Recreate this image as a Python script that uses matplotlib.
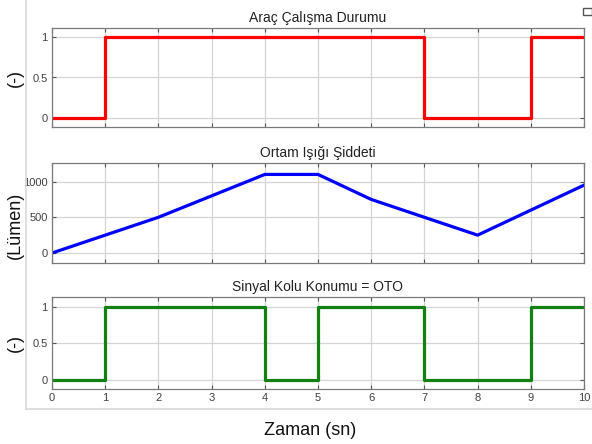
import matplotlib.pyplot as plt
import numpy as np
from matplotlib.lines import Line2D
from matplotlib.patches import Rectangle

plt.rcParams['font.family'] = ['Liberation Sans', 'DejaVu Sans']

# time axis (s)
t = np.arange(0, 11)

# vehicle running state
arac_t = [0, 1, 7, 9, 10]
arac_v = [0, 1, 0, 1, 1]

# ambient light intensity (lumen)
isik_v = [0, 250, 500, 800, 1100, 1100, 750, 500, 250, 600, 950]

# signal lever position = OTO
kol_t = [0, 1, 4, 5, 7, 9, 10]
kol_v = [0, 1, 0, 1, 0, 1, 1]

titles = ['Araç Çalışma Durumu', 'Ortam Işığı Şiddeti', 'Sinyal Kolu Konumu = OTO']
ylabels = ['(-)', '(Lümen)', '(-)']

W, H = 592, 444
fig = plt.figure(figsize=(W / 100, H / 100), dpi=100, facecolor='white')

# axes boxes in pixels: (left, top, right, bottom)
boxes = [(52, 28, 584, 127), (52, 163, 584, 263), (52, 297, 584, 389)]
axes = []
for (l, tp, r, b) in boxes:
    ax = fig.add_axes([l / W, 1 - b / H, (r - l) / W, (b - tp) / H])
    axes.append(ax)

axes[0].step(arac_t, arac_v, where='post', color='#ff0000', lw=2.3)
axes[1].plot(t, isik_v, color='#0000ff', lw=2.3)
axes[2].step(kol_t, kol_v, where='post', color='#138013', lw=2.3)

ylims = [(-0.11, 1.11), (-140, 1260), (-0.12, 1.13)]
yticks = [[0, 0.5, 1], [0, 500, 1000], [0, 0.5, 1]]
ylab_y = [78, 225, 343]

for i, ax in enumerate(axes):
    ax.set_xlim(0, 10)
    ax.set_ylim(*ylims[i])
    ax.set_xticks(t)
    ax.set_yticks(yticks[i])
    ax.set_yticklabels([f'{v:g}' for v in yticks[i]])
    ax.grid(True, color='#d4d4d4', lw=0.9)
    ax.set_axisbelow(True)
    ax.tick_params(direction='in', length=3, width=0.8, top=True, right=True,
                   colors='#555555', labelcolor='#404040', labelsize=8, pad=3)
    for s in ax.spines.values():
        s.set_color('#7a7a7a')
        s.set_linewidth(0.9)
    if i < 2:
        ax.tick_params(labelbottom=False)
    ax.set_title(titles[i], fontsize=10, color='#222222', pad=4)
    fig.text(15 / W, 1 - ylab_y[i] / H, ylabels[i], rotation=90, fontsize=13,
             ha='center', va='center', color='#111111')

fig.text(310 / W, 1 - 430 / H, 'Zaman (sn)', fontsize=13, ha='center', va='center',
         color='#111111')

# panel border lines
fig.add_artist(Line2D([26 / W, 26 / W], [1 - 409 / H, 1.0], color='#d8d8d8', lw=1.2))
fig.add_artist(Line2D([26 / W, 1.0], [1 - 409 / H, 1 - 409 / H], color='#d8d8d8', lw=1.2))
fig.add_artist(Rectangle((583 / W, 1 - 15 / H), 9 / W, 7 / H, fill=False,
                         edgecolor='#555555', lw=1))

fig.savefig('out.png', dpi=100, facecolor='white')
